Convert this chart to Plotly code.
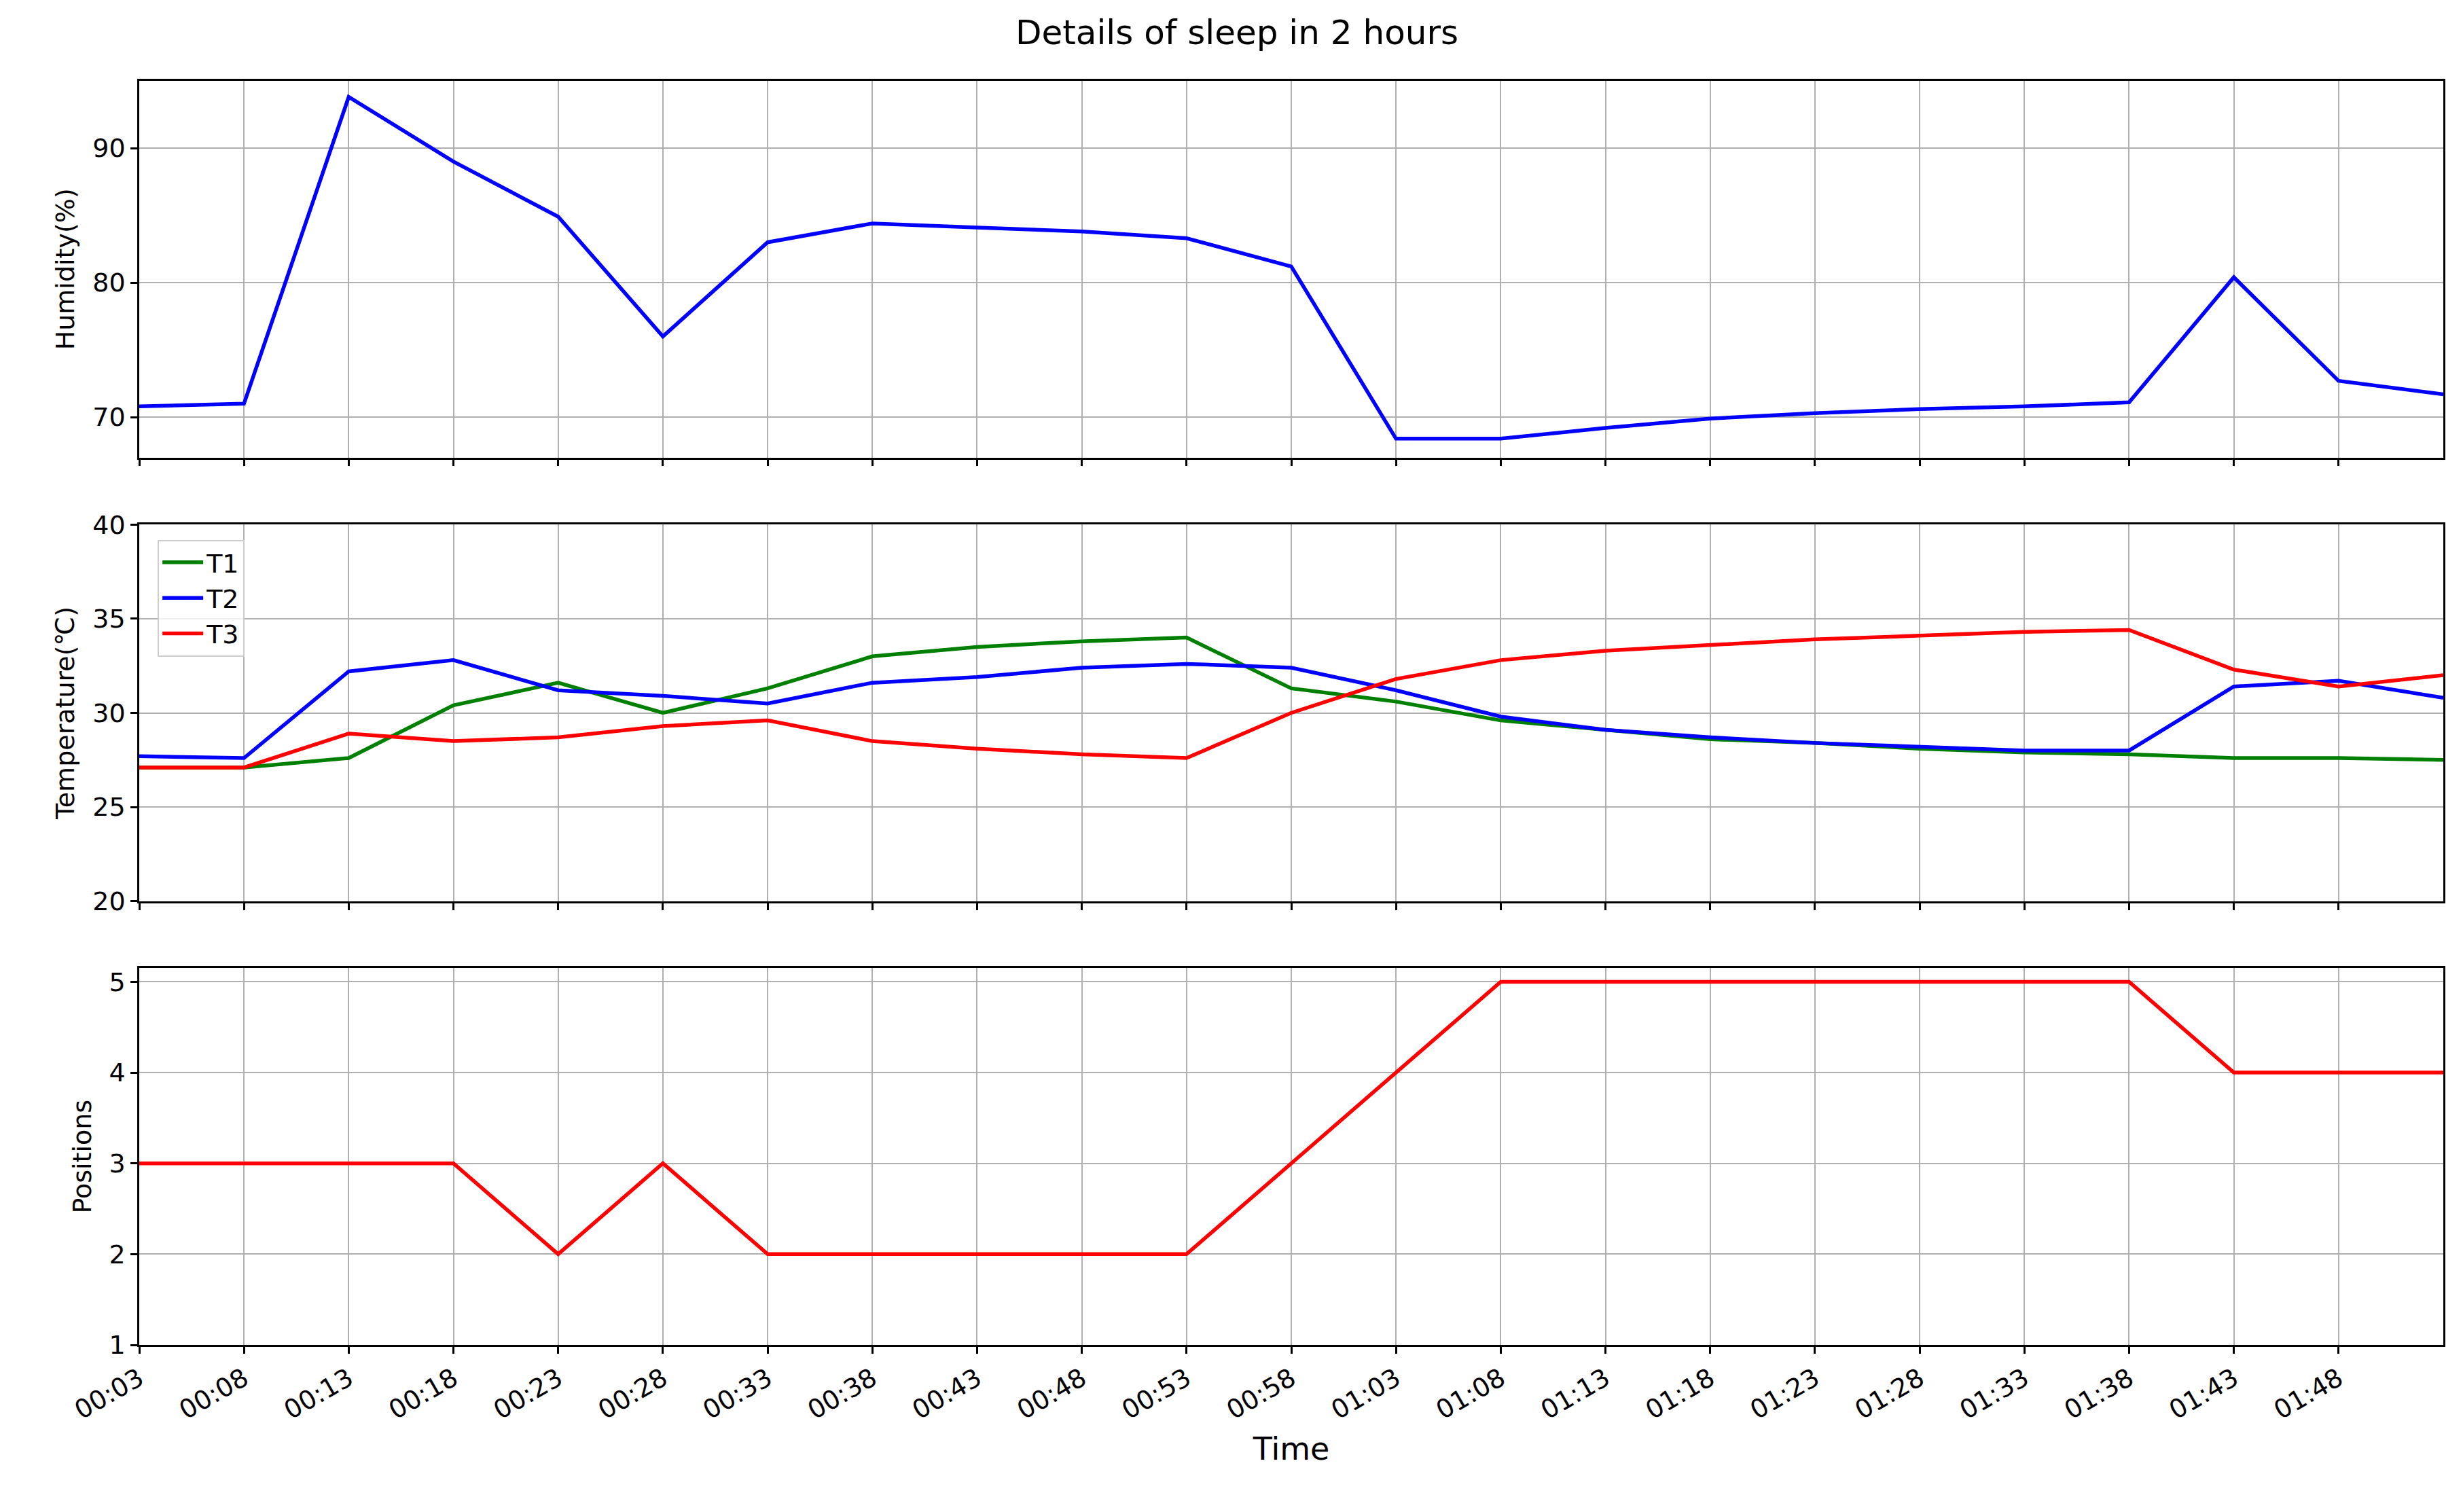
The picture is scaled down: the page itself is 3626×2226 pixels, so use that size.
import plotly.graph_objects as go
from plotly.subplots import make_subplots

times = ["00:03","00:08","00:13","00:18","00:23","00:28","00:33","00:38","00:43","00:48","00:53","00:58",
         "01:03","01:08","01:13","01:18","01:23","01:28","01:33","01:38","01:43","01:48","01:53"]
humidity = [70.8,71.0,93.8,89.0,84.9,76.0,83.0,84.4,84.1,83.8,83.3,81.2,68.4,68.4,69.2,69.9,70.3,70.6,70.8,71.1,80.4,72.7,71.7]
t1 = [27.1,27.1,27.6,30.4,31.6,30.0,31.3,33.0,33.5,33.8,34.0,31.3,30.6,29.6,29.1,28.6,28.4,28.1,27.9,27.8,27.6,27.6,27.5]
t2 = [27.7,27.6,32.2,32.8,31.2,30.9,30.5,31.6,31.9,32.4,32.6,32.4,31.2,29.8,29.1,28.7,28.4,28.2,28.0,28.0,31.4,31.7,30.8]
t3 = [27.1,27.1,28.9,28.5,28.7,29.3,29.6,28.5,28.1,27.8,27.6,30.0,31.8,32.8,33.3,33.6,33.9,34.1,34.3,34.4,32.3,31.4,32.0]
positions = [3,3,3,3,2,3,2,2,2,2,2,3,4,5,5,5,5,5,5,5,4,4,4]
tick_labels = times[:-1]

x = list(range(len(times)))
fig = make_subplots(rows=3, cols=1, shared_xaxes=True, vertical_spacing=0.053)
lw = 5.5
fig.add_trace(go.Scatter(x=x, y=humidity, mode="lines", line=dict(color="blue", width=lw), showlegend=False), 1, 1)
fig.add_trace(go.Scatter(x=x, y=t1, mode="lines", name="T1", line=dict(color="green", width=lw)), 2, 1)
fig.add_trace(go.Scatter(x=x, y=t2, mode="lines", name="T2", line=dict(color="blue", width=lw)), 2, 1)
fig.add_trace(go.Scatter(x=x, y=t3, mode="lines", name="T3", line=dict(color="red", width=lw)), 2, 1)
fig.add_trace(go.Scatter(x=x, y=positions, mode="lines", line=dict(color="red", width=lw), showlegend=False), 3, 1)

ax = dict(showline=True, linecolor="black", linewidth=2.5, mirror=True, showgrid=True, gridcolor="#b0b0b0",
          gridwidth=2, ticks="outside", ticklen=10, tickwidth=2.5, tickcolor="black", zeroline=False,
          tickfont=dict(size=38, color="black"))
for r in (1, 2, 3):
    fig.update_xaxes(**ax, range=[0, len(times)-1], tickvals=x[:-1], ticktext=tick_labels,
                     showticklabels=(r == 3), tickangle=-30, row=r, col=1)
fig.update_xaxes(title=dict(text="Time", font=dict(size=46, color="black"), standoff=20), row=3, col=1)
fig.update_yaxes(**ax, range=[67, 95], tickvals=[70, 80, 90],
                 title=dict(text="Humidity(%)", font=dict(size=38, color="black"), standoff=15), row=1, col=1)
fig.update_yaxes(**ax, range=[20, 40], tickvals=[20, 25, 30, 35, 40],
                 title=dict(text="Temperature(℃)", font=dict(size=38, color="black"), standoff=15), row=2, col=1)
fig.update_yaxes(**ax, range=[1, 5.15], tickvals=[1, 2, 3, 4, 5],
                 title=dict(text="Positions", font=dict(size=38, color="black"), standoff=15), row=3, col=1)

fig.update_layout(
    width=3626, height=2226, plot_bgcolor="white", paper_bgcolor="white",
    font=dict(family="DejaVu Sans", color="black"),
    margin=dict(l=197, r=37, t=111, b=254),
    title=dict(text="Details of sleep in 2 hours", x=0.5, xanchor="center", y=0.99, yanchor="top",
               font=dict(size=50, color="black")),
    legend=dict(x=0.008, y=0.637, xanchor="left", yanchor="top", bgcolor="rgba(255,255,255,0.8)",
                bordercolor="#cccccc", borderwidth=2, font=dict(size=38, color="black"),
                itemwidth=60, tracegroupgap=10),
)
fig.write_html("out.html")
